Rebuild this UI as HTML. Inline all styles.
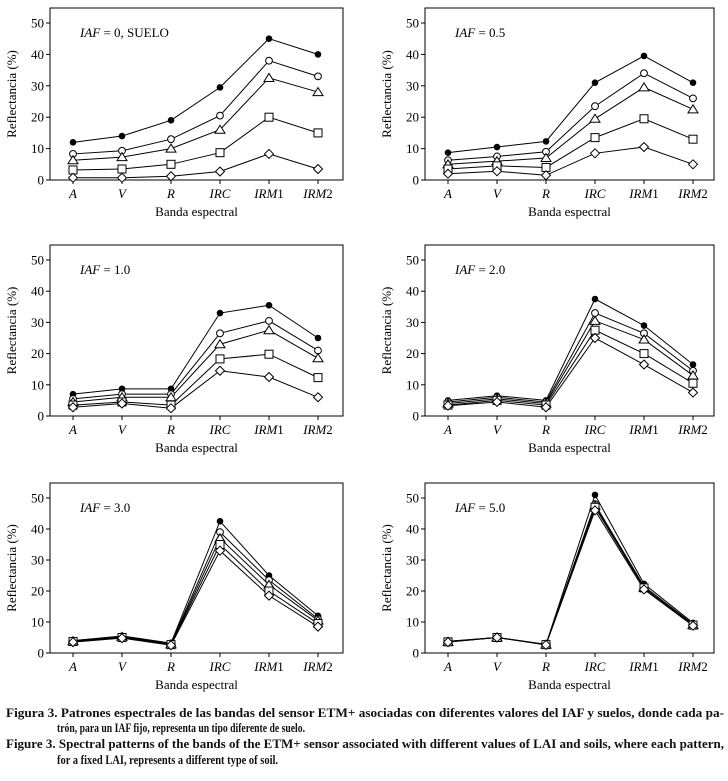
<!DOCTYPE html>
<html><head><meta charset="utf-8"><style>
body{margin:0;background:#fff}
svg{display:block;font-family:"Liberation Serif",serif}
</style></head><body>
<svg id="fig" width="728" height="781" viewBox="0 0 728 781" xmlns="http://www.w3.org/2000/svg"></svg>
<script>
const categories=["A","V","R","IRC","IRM1","IRM2"];
const panelLabels=["0, SUELO","0.5","1.0","2.0","3.0","5.0"];
const yTicks=[0,10,20,30,40,50];
const markers=["filled-circle","open-circle","triangle","square","diamond"];
const p1=[[12,14,19,29.5,45,40],[8.3,9.3,13,20.5,38,33],[6.3,7.3,10,16,32.5,28],[3.2,3.5,5,8.7,20,15],[0.7,0.7,1.2,2.7,8.3,3.5]];
const p2=[[8.7,10.5,12.3,31,39.5,31],[6.3,7.5,9,23.5,34,26],[5,6,7,19.5,29.5,22.5],[3.5,4.5,4,13.5,19.5,13],[2,2.8,1.5,8.5,10.5,5]];
const p3=[[7,8.7,8.7,33,35.5,25],[5.5,7,7,26.5,30.5,21],[4.5,6,6,23,27.5,18.5],[3.5,4.5,3.5,18.3,19.8,12.3],[2.8,4,2.5,14.5,12.5,6]];
const p4=[[5,6.5,5,37.5,29,16.5],[4.5,6,4.5,33,26.5,14.5],[4,5.5,4,30.5,24.5,13],[3.5,5,3.5,27.5,20,10.5],[3.3,4.5,2.8,25,16.5,7.5]];
const p5=[[4,5.5,3.2,42.5,25,12],[4,5.3,3,39,23.5,11],[3.8,5.2,2.8,37,22,10.5],[3.7,5,2.7,35,20,9.5],[3.5,4.8,2.5,33,18.5,8.5]];
const p6=[[3.8,5,2.8,51,22.3,9.7],[3.7,5,2.8,48,21.5,9.3],[3.6,5,2.7,47.5,21,9],[3.6,5,2.7,47,21,9],[3.5,5,2.6,46,20.5,8.8]];
const panelData=[p1,p2,p3,p4,p5,p6];

const NS="http://www.w3.org/2000/svg";
const svg=document.getElementById('fig');
function mk(tag,attrs,parent,text){const e=document.createElementNS(NS,tag);for(const k in attrs)e.setAttribute(k,attrs[k]);if(text!==undefined)e.textContent=text;(parent||svg).appendChild(e);return e;}
const boxes=[[50,8,343,180],[425,8,714,180],[50,245,343,416],[425,245,714,416],[50,483,343,653],[425,483,714,653]];
boxes.forEach((b,pi)=>{
  const [L,T,R,B]=b;
  const g=mk('g',{});
  
  
  const yS=v=>B-v*(B-T-15)/50;
  const xS=i=>L+23+i*49;
  const box=mk('rect',{x:L,y:T,width:R-L,height:B-T,fill:'none',stroke:'#000','stroke-width':1},g);
  
  
  yTicks.forEach(t=>{
    mk('line',{x1:L-4,x2:L,y1:yS(t),y2:yS(t),stroke:'#000'},g);
    const tx=mk('text',{x:L-6,y:yS(t)+4.5,'text-anchor':'end','font-size':13},g,String(t));
    
    
  });
  categories.forEach((c,i)=>{
    mk('line',{x1:xS(i),x2:xS(i),y1:B,y2:B+4,stroke:'#000'},g);
    const tx=mk('text',{x:xS(i),y:B+18,'text-anchor':'middle','font-size':13,'font-style':'italic'},g);
    
    
    const m=c.match(/^(IRM)(\d)$/);
    if(m){tx.textContent=m[1];mk('tspan',{'font-style':'normal'},tx,m[2]);}else tx.textContent=c;
  });
  const xt=mk('text',{x:(L+R)/2,y:B+36,'text-anchor':'middle','font-size':13},g,'Banda espectral');
  
  
  const yt=mk('text',{x:0,y:0,'text-anchor':'middle','font-size':13,transform:`translate(${L-34},${(T+B)/2}) rotate(-90)`},g,'Reflectancia  (%)');
  
  
  const lab=mk('text',{x:L+30,y:T+29,'font-size':13},g);
  
  
  mk('tspan',{'font-style':'italic'},lab,'IAF');
  mk('tspan',{},lab,' = '+panelLabels[pi]);
  panelData[pi].forEach((series,si)=>{
    const pts=series.map((v,i)=>xS(i)+','+yS(v)).join(' ');
    const pl=mk('polyline',{points:pts,fill:'none',stroke:'#000','stroke-width':1},g);
    
    
  });
  panelData[pi].forEach((series,si)=>{
    series.forEach((v,i)=>{
      const x=xS(i),y=yS(v);let e;
      const kind=markers[si];
      if(kind==='filled-circle')e=mk('circle',{cx:x,cy:y,r:3.3,fill:'#000'},g);
      else if(kind==='open-circle')e=mk('circle',{cx:x,cy:y,r:3.4,fill:'#fff',stroke:'#000'},g);
      else if(kind==='triangle')e=mk('polygon',{points:`${x},${y-4.5} ${x-5},${y+3.5} ${x+5},${y+3.5}`,fill:'#fff',stroke:'#000'},g);
      else if(kind==='square')e=mk('rect',{x:x-4,y:y-4,width:8,height:8,fill:'#fff',stroke:'#000'},g);
      else e=mk('polygon',{points:`${x},${y-4.5} ${x+4.5},${y} ${x},${y+4.5} ${x-4.5},${y}`,fill:'#fff',stroke:'#000'},g);
      
      
    });
  });
});
const cap=[
 [6,717,718,'Figura 3. Patrones espectrales de las bandas del sensor ETM+ asociadas con diferentes valores del IAF y suelos, donde cada pa-'],
 [57,732,248,'trón, para un IAF fijo, representa un tipo diferente de suelo.'],
 [6,748,718,'Figure 3.  Spectral patterns of the bands of the ETM+ sensor associated with different values of LAI and soils, where each pattern,'],
 [57,764,221,'for a fixed LAI, represents a different type of soil.']
];
cap.forEach((c,i)=>{
  const t=mk('text',{x:c[0],y:c[1],'font-size':12.5,'font-weight':'600',fill:'#111',textLength:c[2],lengthAdjust:'spacingAndGlyphs'},svg,c[3]);
  
  
});
</script>
</body></html>
